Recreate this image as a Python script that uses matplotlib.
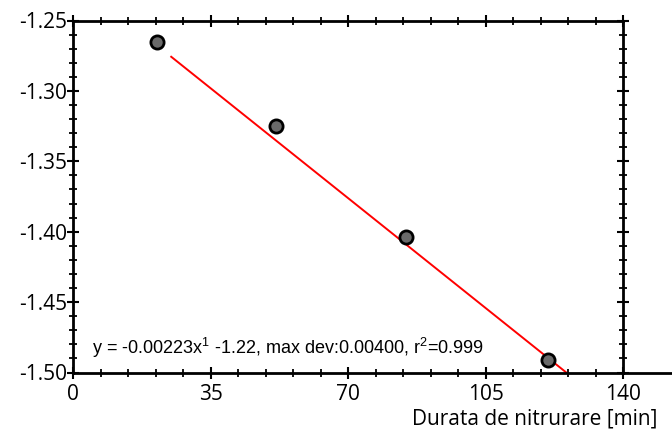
import matplotlib.pyplot as plt
from matplotlib.lines import Line2D
from matplotlib.ticker import MultipleLocator

plt.rcParams['font.family'] = ['Open Sans', 'DejaVu Sans']
plt.rcParams['mathtext.fontset'] = 'custom'
plt.rcParams['mathtext.rm'] = 'Liberation Sans'

# measured points
durata = [21.5, 51.6, 84.8, 121.0]
valori = [-1.265, -1.325, -1.404, -1.491]

# linear fit: y = a*x + b
panta = -0.00223
interceptie = -1.22
fit_x = [25.0, 126.0]
fit_y = [panta * x + interceptie for x in fit_x]

x_ticks = [0, 35, 70, 105, 140]
y_ticks = [-1.50, -1.45, -1.40, -1.35, -1.30, -1.25]
eticheta = ('y = -0.00223x$^{\\mathregular{1}}$ -1.22, max dev:0.00400, '
            'r$^{\\mathregular{2}}$=0.999')

fig = plt.figure(figsize=(6.72, 4.34), dpi=100)
ax = fig.add_axes([73 / 672, 1 - 372.5 / 434, 550 / 672, 352 / 434])

ax.plot(fit_x, fit_y, color='red', lw=1.4, zorder=2)
ax.plot(durata, valori, 'o', ms=9.5, mfc='#6a6a6a', mec='black', mew=2.0,
        zorder=3, clip_on=False)

ax.set_xlim(0, 140)
ax.set_ylim(-1.50, -1.25)
ax.set_xticks(x_ticks)
ax.set_yticks(y_ticks)
ax.set_yticklabels(['%.2f' % v for v in y_ticks])
ax.xaxis.set_minor_locator(MultipleLocator(7))
ax.yaxis.set_minor_locator(MultipleLocator(0.01))
ax.tick_params(which='major', direction='inout', length=9, width=1.5,
               labelsize=15, top=True, right=True, pad=4)
ax.tick_params(which='minor', direction='inout', length=6, width=1.3,
               top=True, right=True)
ax.tick_params(axis='x', which='both', labeltop=False)
ax.tick_params(axis='y', which='both', labelright=False, pad=0)
for s in ax.spines.values():
    s.set_linewidth(2.0)

# bottom axis continues past the right frame
ax.add_line(Line2D([1, 1.1], [0, 0], transform=ax.transAxes, color='black',
                   lw=2.0, clip_on=False))

ax.text((92 - 73) / 550, (372.5 - 348) / 352, eticheta,
        transform=ax.transAxes, fontsize=13, family='Liberation Sans',
        va='center', ha='left')

fig.text(657 / 672, 1 - 419 / 434, 'Durata de nitrurare [min]',
         fontsize=15, ha='right', va='center')

fig.savefig('out.png', dpi=100)
